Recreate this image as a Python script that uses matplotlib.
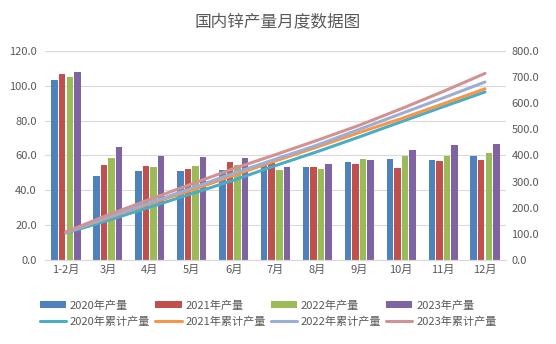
import numpy as np
import matplotlib
matplotlib.use("Agg")
import matplotlib.pyplot as plt

plt.rcParams['font.family'] = ['Noto Sans CJK SC', 'DejaVu Sans']

# --------------------
# Data
# --------------------
months = ["1-2月", "3月", "4月", "5月", "6月", "7月", "8月", "9月", "10月", "11月", "12月"]

prod_2020 = [103.3, 48.2, 51.1, 51.1, 51.7, 55.9, 53.4, 56.3, 58.0, 57.4, 59.7]
prod_2021 = [106.8, 54.5, 54.0, 52.2, 56.3, 55.5, 53.4, 55.1, 53.0, 56.8, 57.4]
prod_2022 = [105.0, 58.7, 53.4, 54.0, 54.5, 51.8, 52.2, 58.0, 59.5, 59.5, 61.4]
prod_2023 = [107.7, 64.7, 59.5, 59.1, 58.6, 53.6, 55.1, 57.4, 63.0, 66.0, 66.6]

cum_2020 = [103.3, 151.5, 202.6, 253.7, 305.4, 361.3, 414.7, 471.0, 529.0, 586.4, 643.0]
cum_2021 = [106.8, 161.3, 215.3, 267.5, 323.8, 379.3, 432.7, 487.8, 540.8, 597.6, 655.0]
cum_2022 = [105.0, 163.7, 219.0, 275.0, 332.0, 386.0, 440.0, 500.0, 560.0, 620.0, 681.0]
cum_2023 = [107.7, 172.4, 231.9, 291.0, 349.6, 403.2, 458.3, 515.7, 578.7, 644.7, 714.0]

bar_series = [prod_2020, prod_2021, prod_2022, prod_2023]
bar_labels = ["2020年产量", "2021年产量", "2022年产量", "2023年产量"]
bar_colors = ["#4f81bd", "#c0504d", "#9bbb59", "#8064a2"]

line_series = [cum_2020, cum_2021, cum_2022, cum_2023]
line_labels = ["2020年累计产量", "2021年累计产量", "2022年累计产量", "2023年累计产量"]
line_colors = ["#4bacc6", "#f79646", "#9aaed6", "#d39292"]

# --------------------
# Plot
# --------------------
fig = plt.figure(figsize=(5.56, 3.44), dpi=100)
ax = fig.add_axes([0.081, 0.244, 0.829, 0.608])
ax2 = ax.twinx()

x = np.arange(len(months))
width = 0.155
step = 0.18

bar_handles = []
for i, (vals, lab, col) in enumerate(zip(bar_series, bar_labels, bar_colors)):
    h = ax.bar(x + (i - 1.5) * step, vals, width, color=col, label=lab, zorder=2)
    bar_handles.append(h)

line_handles = []
for vals, lab, col in zip(line_series, line_labels, line_colors):
    h, = ax2.plot(x, vals, color=col, linewidth=2.2, label=lab, solid_capstyle='round')
    line_handles.append(h)

# --------------------
# Axes formatting
# --------------------
ax.set_ylim(0, 120)
ax.set_yticks(np.arange(0, 121, 20))
ax.set_yticklabels([f"{v:.1f}" for v in np.arange(0, 121, 20)])
ax2.set_ylim(0, 800)
ax2.set_yticks(np.arange(0, 801, 100))
ax2.set_yticklabels([f"{v:.1f}" for v in np.arange(0, 801, 100)])
ax.set_xlim(-0.5, len(months) - 0.5)
ax.set_xticks(x)
ax.set_xticklabels(months)

ax.yaxis.grid(True, color="#d9d9d9", linewidth=0.8, zorder=0)
ax.set_axisbelow(True)
for a in (ax, ax2):
    for s in ("top", "left", "right"):
        a.spines[s].set_visible(False)
    a.spines["bottom"].set_color("#d9d9d9")
    a.tick_params(axis="both", length=0, labelsize=8, colors="#595959")
ax.tick_params(axis="y", pad=6)
ax2.tick_params(axis="y", pad=4)

fig.suptitle("国内锌产量月度数据图", x=0.5, y=0.962, fontsize=12, color="#595959")

handles = []
labels = []
for b, l in zip(bar_handles, line_handles):
    handles += [b, l]
    labels += [b.get_label(), l.get_label()]
fig.legend(handles, labels, ncol=4, loc="upper left", bbox_to_anchor=(0.072, 0.128),
           frameon=False, fontsize=8, handlelength=2.35, handleheight=0.6,
           columnspacing=0.45, handletextpad=0.35, labelspacing=0.5,
           borderpad=0.0, borderaxespad=0.0, labelcolor="#595959")

plt.savefig("out.png", dpi=100)
